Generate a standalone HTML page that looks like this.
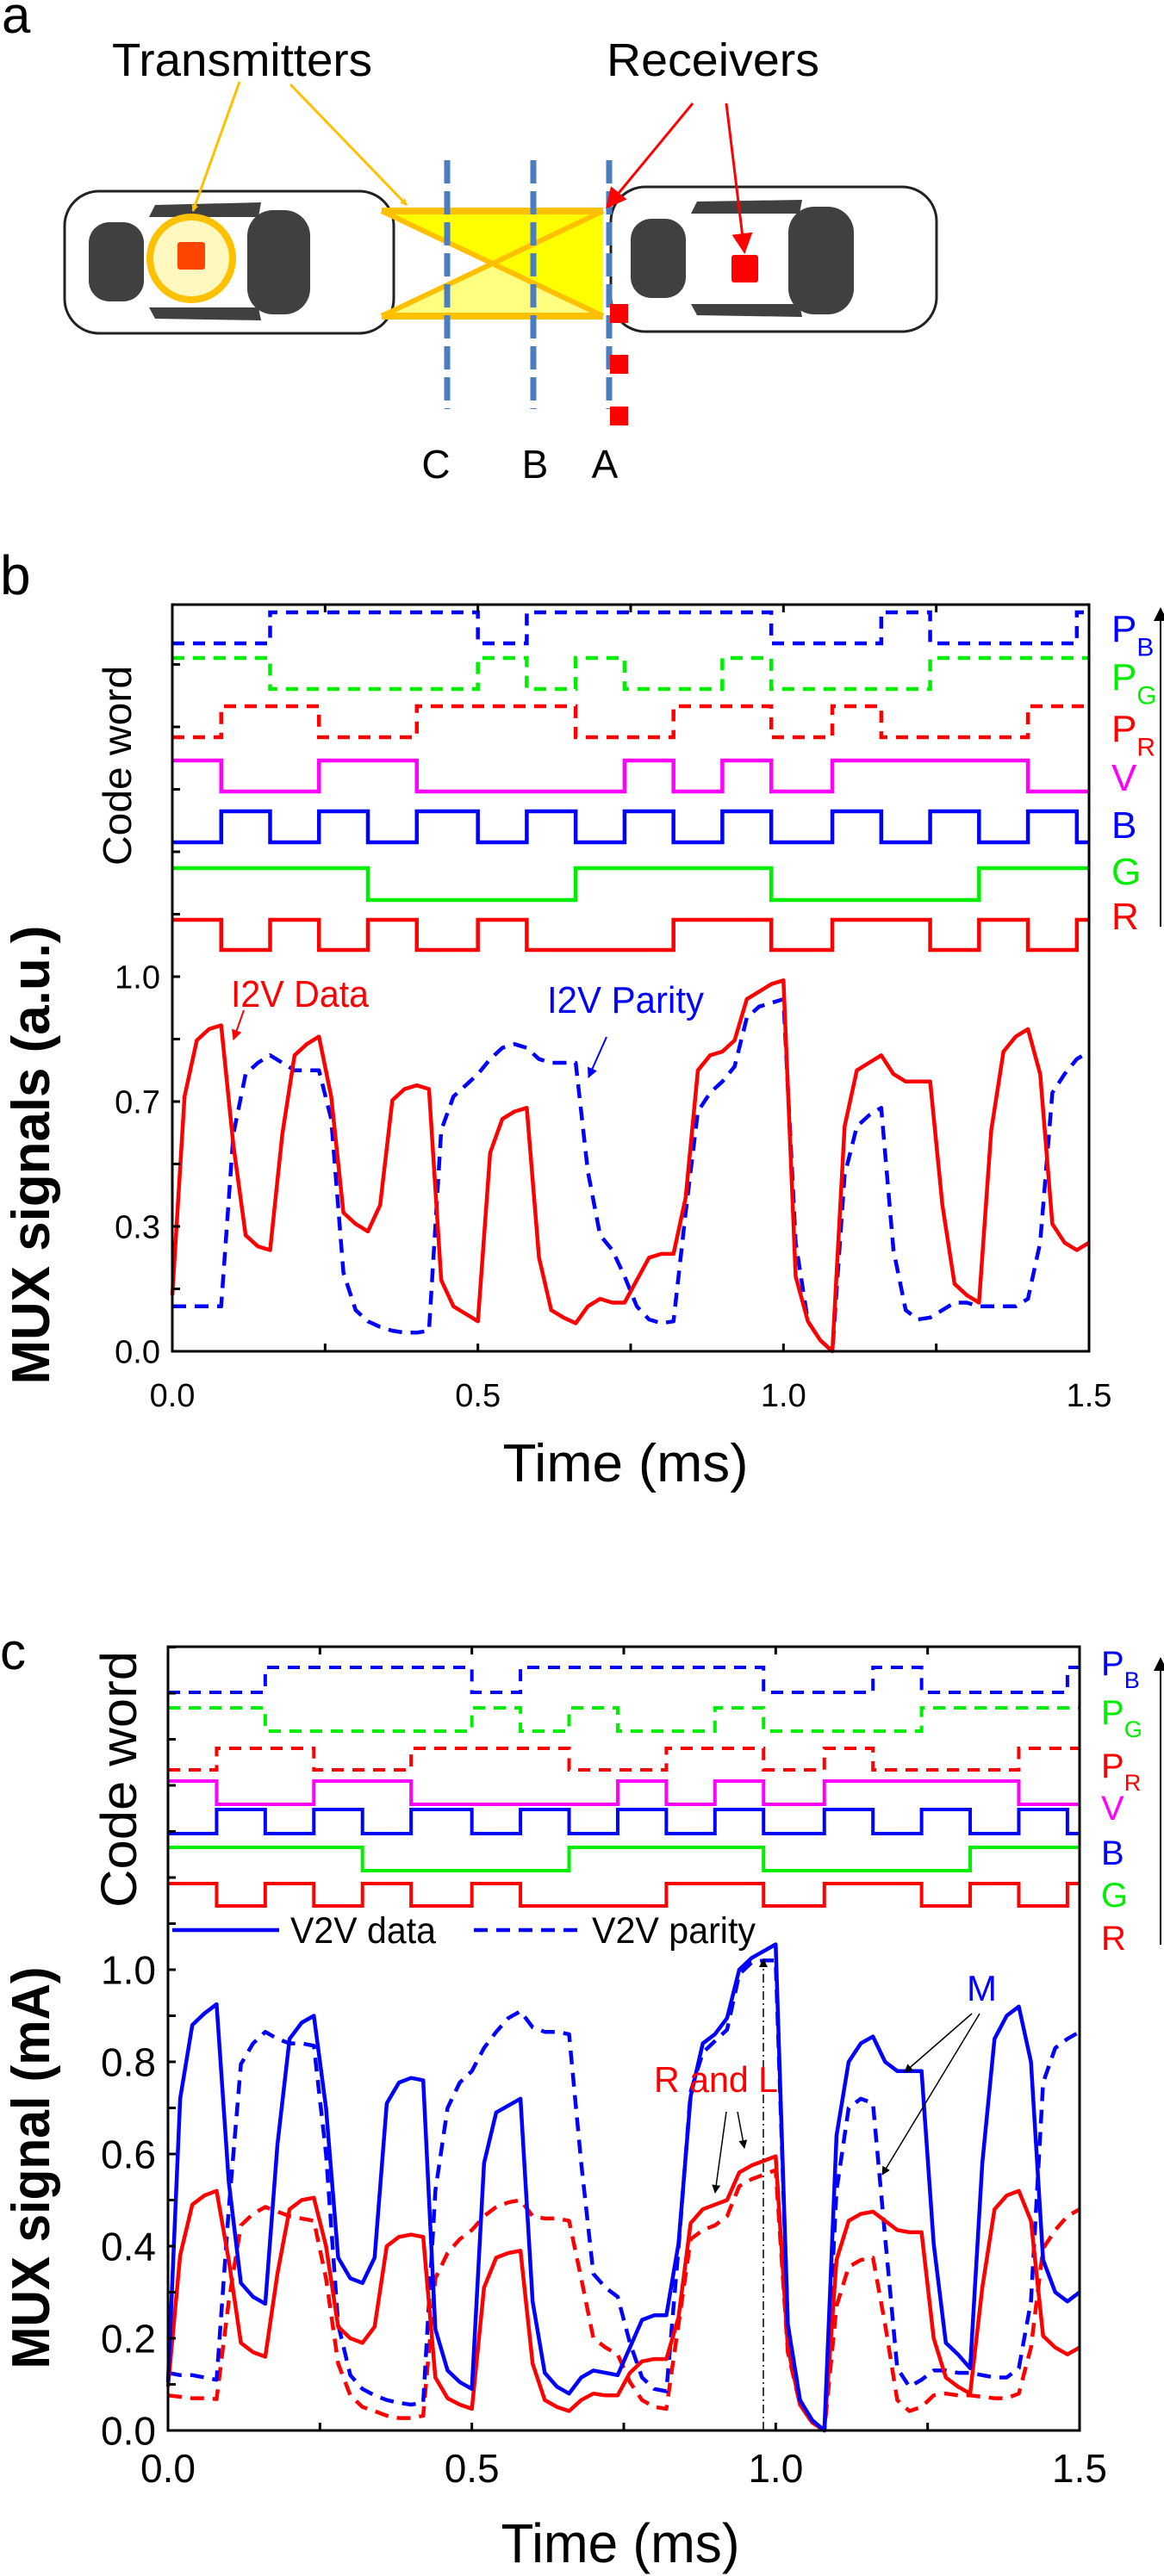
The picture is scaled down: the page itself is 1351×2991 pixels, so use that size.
<!DOCTYPE html>
<html><head><meta charset="utf-8"><style>
html,body{margin:0;padding:0;background:#fff;}
svg{display:block;font-family:"Liberation Sans",Arial,sans-serif;}
</style></head><body>
<svg id="fig" width="1351" height="2991" viewBox="0 0 1351 2991" xmlns="http://www.w3.org/2000/svg">
<defs>
<marker id="arO" markerWidth="8" markerHeight="8" refX="7" refY="4" orient="auto" markerUnits="userSpaceOnUse" viewBox="0 0 8 8"><path d="M0,0 L8,4 L0,8 z" fill="#ffc000"/></marker>
<marker id="arR" markerWidth="8" markerHeight="8" refX="7" refY="4" orient="auto" viewBox="0 0 8 8"><path d="M0,0 L8,4 L0,8 z" fill="#ff0000"/></marker>
<marker id="arK" markerWidth="8" markerHeight="8" refX="7" refY="4" orient="auto" viewBox="0 0 8 8"><path d="M0,0 L8,4 L0,8 z" fill="#000"/></marker>
</defs>

<!-- Panel a -->
<g>
<text x="2" y="38" font-size="60">a</text>
<text x="130" y="88" font-size="54" textLength="302" lengthAdjust="spacingAndGlyphs">Transmitters</text>
<text x="704" y="88" font-size="54" textLength="247" lengthAdjust="spacingAndGlyphs">Receivers</text>
<g>
<rect x="75" y="222" width="382" height="165" rx="40" fill="#fff" stroke="#222" stroke-width="3"/>
<rect x="103" y="258" width="64" height="92" rx="24" fill="#404040"/>
<rect x="287" y="244" width="73" height="121" rx="30" fill="#404040"/>
<path d="M173,252 L180,238 L303,235 L300,252 Z" fill="#404040"/>
<path d="M173,357 L300,357 L303,372 L180,370 Z" fill="#404040"/>
<ellipse cx="222" cy="300" rx="48" ry="48" fill="#fff9c0" stroke="#ffc000" stroke-width="8"/>
<rect x="206" y="281" width="32" height="32" rx="3" fill="#ff4500"/>
</g>
<g>
<rect x="709" y="217" width="378" height="168" rx="40" fill="#fff" stroke="#222" stroke-width="3"/>
<rect x="732" y="254" width="64" height="92" rx="24" fill="#404040"/>
<rect x="915" y="240" width="76" height="125" rx="30" fill="#404040"/>
<path d="M802,248 L809,234 L931,232 L928,248 Z" fill="#404040"/>
<path d="M802,353 L928,353 L931,368 L809,366 Z" fill="#404040"/>
<rect x="849" y="296" width="31" height="32" rx="3" fill="#ff0000"/>
</g>
<g>
<polygon points="443,245 700,245 571,306" fill="#ffff00"/>
<polygon points="443,367 700,367 571,306" fill="#ffff80"/>
<polygon points="700,245 700,367 571,306" fill="#ffff00"/>
<line x1="443" y1="245" x2="700" y2="245" stroke="#ffc000" stroke-width="8"/>
<line x1="443" y1="367" x2="700" y2="367" stroke="#ffc000" stroke-width="8"/>
<line x1="443" y1="245" x2="700" y2="367" stroke="#ffc000" stroke-width="6"/>
<line x1="443" y1="367" x2="700" y2="245" stroke="#ffc000" stroke-width="6"/>
</g>
<line x1="519" y1="186" x2="519" y2="475" stroke="#4a7ec0" stroke-width="7" stroke-dasharray="27,9"/>
<line x1="619" y1="186" x2="619" y2="475" stroke="#4a7ec0" stroke-width="7" stroke-dasharray="27,9"/>
<line x1="707" y1="186" x2="707" y2="475" stroke="#4a7ec0" stroke-width="7" stroke-dasharray="27,9"/>
<rect x="708" y="353" width="21" height="22" fill="#ff0000"/>
<rect x="708" y="412" width="21" height="22" fill="#ff0000"/>
<rect x="708" y="472" width="21" height="22" fill="#ff0000"/>
<line x1="278" y1="95" x2="224" y2="245" stroke="#ffc000" stroke-width="3" marker-end="url(#arO)"/>
<line x1="337" y1="98" x2="472" y2="238" stroke="#ffc000" stroke-width="3" marker-end="url(#arO)"/>
<line x1="804" y1="120" x2="705" y2="240" stroke="#ff0000" stroke-width="3" marker-end="url(#arR)"/>
<line x1="843" y1="120" x2="864" y2="292" stroke="#ff0000" stroke-width="3" marker-end="url(#arR)"/>
<text x="506" y="555" font-size="46" text-anchor="middle">C</text>
<text x="621" y="555" font-size="46" text-anchor="middle">B</text>
<text x="702" y="555" font-size="46" text-anchor="middle">A</text>
</g>

<g id="pb"></g>
<g id="pc"></g>
</svg>
<script>
// ---- shared code-word data (toggle times in ms) ----
const codeRowNames = ["PB","PG","PR","V","B","G","R"];
const rowR_init = 1;
const rowR_t = [0.08,0.16,0.24,0.32,0.40,0.50,0.58,0.82,0.98,1.08,1.24,1.32,1.40,1.48];
const rowG_init = 1;
const rowG_t = [0.32,0.66,0.98,1.32];
const rowB_init = 0;
const rowB_t = [0.08,0.16,0.24,0.32,0.40,0.50,0.58,0.66,0.74,0.82,0.90,0.98,1.08,1.16,1.24,1.32,1.40,1.48];
const rowV_init = 1;
const rowV_t = [0.08,0.24,0.40,0.74,0.82,0.90,0.98,1.08,1.40];
const rowPR_init = 0;
const rowPR_t = [0.08,0.24,0.40,0.66,0.82,0.98,1.08,1.16,1.40];
const rowPB_init = 0;
const rowPB_t = [0.16,0.50,0.58,0.98,1.16,1.24,1.48];
const rowPG_init = 1;
const rowPG_t = [0.16,0.50,0.58,0.66,0.74,0.90,0.98,1.24];

// ---- sampling times (ms) ----
const times = [0,0.02,0.04,0.06,0.08,0.10,0.12,0.14,0.16,0.18,0.20,0.22,0.24,0.26,0.28,0.30,0.32,0.34,0.36,0.38,0.40,0.42,0.44,0.46,0.48,0.50,0.52,0.54,0.56,0.58,0.60,0.62,0.64,0.66,0.68,0.70,0.72,0.74,0.76,0.78,0.80,0.82,0.84,0.86,0.88,0.90,0.92,0.94,0.96,0.98,1.00,1.02,1.04,1.06,1.08,1.10,1.12,1.14,1.16,1.18,1.20,1.22,1.24,1.26,1.28,1.30,1.32,1.34,1.36,1.38,1.40,1.42,1.44,1.46,1.48,1.50];

// ---- panel b series ----
const i2vData = [0.15,0.68,0.83,0.86,0.87,0.55,0.31,0.28,0.27,0.58,0.79,0.82,0.84,0.68,0.37,0.34,0.32,0.39,0.67,0.70,0.71,0.70,0.19,0.12,0.10,0.08,0.53,0.62,0.64,0.65,0.25,0.11,0.09,0.075,0.12,0.14,0.13,0.13,0.19,0.25,0.26,0.26,0.41,0.75,0.79,0.80,0.83,0.94,0.96,0.98,0.99,0.20,0.08,0.03,0.00,0.60,0.75,0.77,0.79,0.74,0.72,0.72,0.72,0.39,0.18,0.15,0.13,0.59,0.80,0.84,0.86,0.74,0.34,0.29,0.27,0.29];
const i2vParity = [0.12,0.12,0.12,0.12,0.12,0.58,0.74,0.77,0.79,0.77,0.75,0.75,0.75,0.62,0.21,0.11,0.08,0.065,0.055,0.05,0.05,0.055,0.59,0.68,0.71,0.74,0.78,0.81,0.82,0.81,0.78,0.77,0.77,0.77,0.48,0.31,0.27,0.20,0.12,0.085,0.075,0.08,0.37,0.64,0.69,0.72,0.76,0.89,0.92,0.93,0.94,0.29,0.08,0.03,0.00,0.47,0.60,0.63,0.65,0.27,0.11,0.085,0.09,0.11,0.13,0.13,0.12,0.12,0.12,0.12,0.14,0.29,0.69,0.74,0.78,0.80];
const bYTicks = [0,1/6,2/6,3/6,4/6,5/6,1,7/6,8/6,9/6,10/6,11/6,12/6];
const bYLabelVals = [0,1/3,2/3,1];
const bYLabels = ["0.0","0.3","0.7","1.0"];
const xTickVals = [0,0.25,0.5,0.75,1.0,1.25,1.5];
const xLabelVals = [0,0.5,1.0,1.5];
const xLabels = ["0.0","0.5","1.0","1.5"];

// ---- panel c series ----
const v2vDataM = [0.105,0.72,0.88,0.905,0.925,0.54,0.32,0.29,0.275,0.62,0.85,0.885,0.90,0.70,0.375,0.33,0.32,0.375,0.71,0.755,0.765,0.76,0.22,0.13,0.105,0.09,0.58,0.69,0.705,0.72,0.28,0.125,0.095,0.08,0.115,0.13,0.125,0.12,0.18,0.24,0.25,0.25,0.405,0.725,0.84,0.86,0.895,1.00,1.025,1.04,1.055,0.23,0.066,0.022,0.0,0.64,0.80,0.84,0.855,0.80,0.78,0.78,0.78,0.405,0.19,0.165,0.135,0.58,0.85,0.90,0.92,0.80,0.37,0.30,0.28,0.30];
const v2vDataRL = [0.095,0.38,0.49,0.51,0.52,0.37,0.19,0.17,0.16,0.34,0.48,0.50,0.505,0.40,0.225,0.20,0.19,0.225,0.40,0.42,0.425,0.42,0.115,0.07,0.056,0.047,0.31,0.375,0.385,0.39,0.145,0.066,0.051,0.042,0.066,0.08,0.076,0.076,0.125,0.15,0.155,0.155,0.245,0.45,0.48,0.49,0.50,0.56,0.575,0.585,0.595,0.18,0.056,0.017,0.0,0.37,0.455,0.47,0.475,0.455,0.435,0.43,0.43,0.20,0.115,0.095,0.08,0.31,0.48,0.51,0.52,0.455,0.205,0.18,0.165,0.18];
const v2vParityM = [0.125,0.12,0.12,0.115,0.11,0.48,0.795,0.84,0.865,0.85,0.84,0.84,0.835,0.60,0.23,0.12,0.09,0.076,0.066,0.06,0.056,0.06,0.52,0.70,0.755,0.78,0.83,0.865,0.895,0.91,0.875,0.865,0.865,0.86,0.58,0.34,0.31,0.29,0.19,0.115,0.09,0.085,0.395,0.735,0.82,0.845,0.87,0.99,1.015,1.02,1.02,0.23,0.066,0.022,0.0,0.52,0.70,0.72,0.71,0.42,0.135,0.095,0.11,0.13,0.13,0.125,0.125,0.12,0.115,0.115,0.135,0.28,0.755,0.83,0.85,0.865];
const v2vParityRL = [0.076,0.073,0.07,0.07,0.068,0.28,0.445,0.47,0.485,0.475,0.465,0.46,0.455,0.33,0.145,0.076,0.051,0.042,0.032,0.027,0.027,0.032,0.33,0.385,0.415,0.435,0.465,0.485,0.495,0.50,0.465,0.46,0.46,0.455,0.33,0.20,0.18,0.165,0.105,0.066,0.051,0.047,0.23,0.415,0.435,0.445,0.465,0.53,0.545,0.555,0.565,0.17,0.056,0.017,0.0,0.27,0.355,0.37,0.375,0.23,0.066,0.042,0.051,0.076,0.08,0.076,0.076,0.073,0.07,0.07,0.08,0.18,0.395,0.435,0.465,0.48];
const cYTicks = [0,0.1,0.2,0.3,0.4,0.5,0.6,0.7,0.8,0.9,1.0,1.1,1.2,1.3,1.4,1.5,1.6,1.7];
const cYLabelVals = [0,0.2,0.4,0.6,0.8,1.0];
const cYLabels = ["0.0","0.2","0.4","0.6","0.8","1.0"];

const NS = "http://www.w3.org/2000/svg";
function mk(parent, tag, attrs, text){
  const e = document.createElementNS(NS, tag);
  for (const k in attrs) e.setAttribute(k, attrs[k]);
  if (text !== undefined) e.textContent = text;
  parent.appendChild(e);
  return e;
}

function rowPath(init, toggles, x, yHi, yLo){
  let lvl = init;
  let d = "M" + x(0) + "," + (lvl ? yHi : yLo);
  for (const t of toggles){
    d += " L" + x(t) + "," + (lvl ? yHi : yLo);
    lvl = 1 - lvl;
    d += " L" + x(t) + "," + (lvl ? yHi : yLo);
  }
  d += " L" + x(1.5) + "," + (lvl ? yHi : yLo);
  return d;
}
function linePath(xs, ys, x, y){
  return xs.map((t,i)=> (i?"L":"M") + x(t).toFixed(1) + "," + y(ys[i]).toFixed(1)).join(" ");
}

function panel(g, cfg){
  const x = t => cfg.x0 + t * (cfg.x1 - cfg.x0) / 1.5;
  const y = v => cfg.y0 - v * cfg.unit;
  const rows = [
    ["PB", rowPB_init, rowPB_t, "#0000ff", true],
    ["PG", rowPG_init, rowPG_t, "#00ee00", true],
    ["PR", rowPR_init, rowPR_t, "#ff0000", true],
    ["V", rowV_init, rowV_t, "#ff00ff", false],
    ["B", rowB_init, rowB_t, "#0000ff", false],
    ["G", rowG_init, rowG_t, "#00ee00", false],
    ["R", rowR_init, rowR_t, "#ff0000", false]
  ];
  rows.forEach((r,i)=>{
    const lv = cfg.rowLevels[i];
    const p = mk(g, "path", {d: rowPath(r[1], r[2], x, lv[0], lv[1]), fill:"none", stroke:r[3], "stroke-width":cfg.codeW, "stroke-dasharray": r[4] ? "14,10" : "none"});
    
    
  });
  // series
  cfg.series.forEach(s=>{
    const p = mk(g, "path", {d: linePath(times, s.v, x, y), fill:"none", stroke:s.c, "stroke-width":cfg.lineW, "stroke-dasharray": s.dash ? "16,10" : "none", "stroke-linejoin":"round"});
    
    
  });
  // frame
  const fr = mk(g, "rect", {x:cfg.x0, y:cfg.top, width:cfg.x1-cfg.x0, height:cfg.y0-cfg.top, fill:"none", stroke:"#000", "stroke-width":3});
  
  
  // y ticks
  cfg.yTicks.forEach(v=>{
    const yy = y(v);
    if (yy < cfg.top) return;
    const tk = mk(g, "line", {x1:cfg.x0, x2:cfg.x0+9, y1:yy, y2:yy, stroke:"#000", "stroke-width":3});
    
    
  });
  cfg.yLabelVals.forEach((v,i)=>{
    const tl = mk(g, "text", {x:cfg.x0-14, y:y(v)+cfg.tickFs*0.36, "font-size":cfg.tickFs, "text-anchor":"end"}, cfg.yLabels[i]);
    
    
  });
  xTickVals.forEach(t=>{
    const a = mk(g, "line", {x1:x(t), x2:x(t), y1:cfg.y0, y2:cfg.y0-9, stroke:"#000", "stroke-width":3});
    
    
    const b = mk(g, "line", {x1:x(t), x2:x(t), y1:cfg.top, y2:cfg.top+9, stroke:"#000", "stroke-width":3});
    
    
  });
  xLabelVals.forEach((t,i)=>{
    const tl = mk(g, "text", {x:x(t), y:cfg.xLabY, "font-size":cfg.tickFs, "text-anchor":"middle"}, xLabels[i]);
    
    
  });
  // right labels
  const labs = [["P","B","#0000ff"],["P","G","#00ee00"],["P","R","#ff0000"],["V","","#ff00ff"],["B","","#0000ff"],["G","","#00ee00"],["R","","#ff0000"]];
  labs.forEach((l,i)=>{
    const t = mk(g, "text", {x:cfg.labX, y:cfg.labY[i], "font-size":cfg.labFs, fill:l[2]});
    
    
    mk(t, "tspan", {}, l[0]);
    if (l[1]) mk(t, "tspan", {dy: cfg.labFs*0.38, "font-size": cfg.labFs*0.68}, l[1]);
  });
  const ar = mk(g, "line", {x1:1347, x2:1347, y1:cfg.arrow[1], y2:cfg.arrow[0], stroke:"#000", "stroke-width":2, "marker-end":"url(#arK)"});
  
  
  return {x, y};
}

// panel b
const gb = document.getElementById("pb");
panel(gb, {
  x0:200, x1:1264, y0:1569, unit:435, top:702, codeW:4.5, lineW:4.5, tickFs:38, xLabY:1633,
  rowLevels:[[711,747],[764,800],[820,856],[883,919],[942,978],[1008,1045],[1068,1103]],
  series:[{name:'i2v-parity-line', v:i2vParity, c:'#0000ff', dash:true},{name:'i2v-data-line', v:i2vData, c:'#ff0000', dash:false}],
  yTicks:bYTicks, yLabelVals:bYLabelVals, yLabels:bYLabels,
  labX:1290, labFs:44, labY:[745,801,861,918,973,1027,1079], arrow:[707,1076]
});
// panel c
const gc = document.getElementById("pc");
panel(gc, {
  x0:195, x1:1253, y0:2822, unit:535, top:1912, codeW:4, lineW:4.5, tickFs:46, xLabY:2882,
  rowLevels:[[1936,1965],[1983,2010],[2030,2055],[2068,2095],[2101,2129],[2145,2172],[2187,2213]],
  series:[{name:'v2v-parity-rl-line', v:v2vParityRL, c:'#ff0000', dash:true},{name:'v2v-parity-m-line', v:v2vParityM, c:'#0000ff', dash:true},{name:'v2v-data-rl-line', v:v2vDataRL, c:'#ff0000', dash:false},{name:'v2v-data-m-line', v:v2vDataM, c:'#0000ff', dash:false}],
  yTicks:cYTicks, yLabelVals:cYLabelVals, yLabels:cYLabels,
  labX:1278, labFs:40, labY:[1945,2002,2064,2113,2165,2214,2264], arrow:[1926,2258]
});
</script>
<svg style="position:absolute;left:0;top:0" width="1351" height="2991" viewBox="0 0 1351 2991" xmlns="http://www.w3.org/2000/svg" font-family="Liberation Sans, Arial, sans-serif">
<defs>
<marker id="ak2" markerWidth="10" markerHeight="10" refX="9" refY="5" orient="auto" markerUnits="userSpaceOnUse" viewBox="0 0 10 10"><path d="M0,0 L10,5 L0,10 z" fill="#000"/></marker>
<marker id="ar2" markerWidth="12" markerHeight="12" refX="11" refY="6" orient="auto" markerUnits="userSpaceOnUse" viewBox="0 0 12 12"><path d="M0,0 L12,6 L0,12 z" fill="#ff0000"/></marker>
<marker id="ab2" markerWidth="12" markerHeight="12" refX="11" refY="6" orient="auto" markerUnits="userSpaceOnUse" viewBox="0 0 12 12"><path d="M0,0 L12,6 L0,12 z" fill="#0000ff"/></marker>
</defs>
<!-- panel b texts -->
<text x="0" y="690" font-size="64">b</text>
<text transform="translate(152,889) rotate(-90)" font-size="46" text-anchor="middle" textLength="232" lengthAdjust="spacingAndGlyphs">Code word</text>
<text transform="translate(57,1341) rotate(-90)" font-size="62" font-weight="bold" text-anchor="middle" textLength="533" lengthAdjust="spacingAndGlyphs">MUX signals (a.u.)</text>
<text x="726" y="1720" font-size="62" text-anchor="middle" textLength="285" lengthAdjust="spacingAndGlyphs">Time (ms)</text>
<text x="268" y="1169" font-size="44" fill="#ff0000" textLength="160" lengthAdjust="spacingAndGlyphs">I2V Data</text>
<line x1="283" y1="1173" x2="271" y2="1207" stroke="#ff0000" stroke-width="2" marker-end="url(#ar2)"/>
<text x="635" y="1176" font-size="44" fill="#0000ff" textLength="182" lengthAdjust="spacingAndGlyphs">I2V Parity</text>
<line x1="704" y1="1204" x2="683" y2="1251" stroke="#0000ff" stroke-width="2" marker-end="url(#ab2)"/>
<!-- panel c texts -->
<text x="0" y="1938" font-size="60">c</text>
<text transform="translate(158,2066) rotate(-90)" font-size="58" text-anchor="middle" textLength="298" lengthAdjust="spacingAndGlyphs">Code word</text>
<text transform="translate(57,2517) rotate(-90)" font-size="62" font-weight="bold" text-anchor="middle" textLength="467" lengthAdjust="spacingAndGlyphs">MUX signal (mA)</text>
<text x="720" y="2975" font-size="64" text-anchor="middle" textLength="277" lengthAdjust="spacingAndGlyphs">Time (ms)</text>
<g>
<line x1="200" y1="2241" x2="324" y2="2241" stroke="#0000ff" stroke-width="4.5"/>
<text x="337" y="2256" font-size="43" textLength="169" lengthAdjust="spacingAndGlyphs">V2V data</text>
<line x1="550" y1="2241" x2="674" y2="2241" stroke="#0000ff" stroke-width="4.5" stroke-dasharray="16,10"/>
<text x="687" y="2256" font-size="43" textLength="190" lengthAdjust="spacingAndGlyphs">V2V parity</text>
</g>
<line x1="886" y1="2822" x2="886" y2="2275" stroke="#000" stroke-width="1.5" stroke-dasharray="10,4,2,4" marker-end="url(#ak2)"/>
<text x="759" y="2429" font-size="42" fill="#ff0000" textLength="144" lengthAdjust="spacingAndGlyphs">R and L</text>
<line x1="843" y1="2452" x2="830" y2="2546" stroke="#000" stroke-width="1.5" marker-end="url(#ak2)"/>
<line x1="856" y1="2452" x2="864" y2="2494" stroke="#000" stroke-width="1.5" marker-end="url(#ak2)"/>
<text x="1122" y="2323" font-size="42" fill="#0000ff">M</text>
<line x1="1128" y1="2338" x2="1050" y2="2406" stroke="#000" stroke-width="1.5" marker-end="url(#ak2)"/>
<line x1="1137" y1="2338" x2="1024" y2="2525" stroke="#000" stroke-width="1.5" marker-end="url(#ak2)"/>
</svg>
</body></html>
